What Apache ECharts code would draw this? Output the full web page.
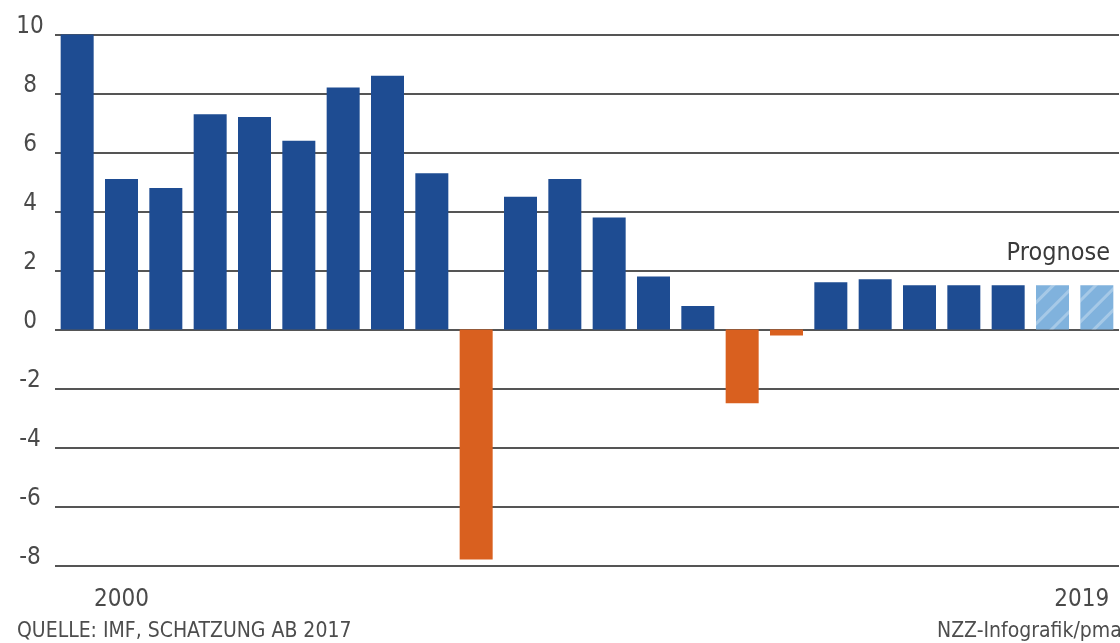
<!DOCTYPE html>
<html>
<head>
<meta charset="utf-8">
<script src="https://cdn.jsdelivr.net/npm/echarts@6/dist/echarts.min.js"></script>
<style>
  html, body { margin: 0; padding: 0; background: #ffffff; }
  #chart { width: 1120px; height: 643px; }
</style>
</head>
<body>
<div id="chart"></div>
<script>
// Tick labels shown under the bars (as printed in the reference)
const xTickLabels = ['', '2000', '', '', '', '', '', '', '', '', '', '', '', '', '', '', '', '', '', '', '', '', '', '2019'];
// Growth values (%)
const actualValues = [10.1, 5.1, 4.8, 7.3, 7.2, 6.4, 8.2, 8.6, 5.3, -7.8, 4.5, 5.1, 3.8, 1.8, 0.8, -2.5, -0.2, 1.6, 1.7, 1.5, 1.5, 1.5, null, null];
const forecastValues = [null, null, null, null, null, null, null, null, null, null, null, null, null, null, null, null, null, null, null, null, null, null, 1.5, 1.5];
const yTicks = [10, 8, 6, 4, 2, 0, -2, -4, -6, -8];

const BLUE = '#1e4c92';
const ORANGE = '#d9601f';
const LIGHT = '#80b2dd';
const FONT = 'DejaVu Sans Condensed';

const chart = echarts.init(document.getElementById('chart'), null, { renderer: 'canvas' });

const option = {
  backgroundColor: '#ffffff',
  animation: false,
  grid: { left: 55, right: 1, top: 34.5, bottom: 77.5, containLabel: false },
  title: [
    {
      text: 'QUELLE: IMF, SCHATZUNG AB 2017',
      left: 12, top: 616,
      textStyle: { fontFamily: FONT, fontSize: 21, fontWeight: 'normal', color: '#4d4d4d' }
    },
    {
      text: 'NZZ-Infografik/pma',
      left: 932, top: 616,
      textStyle: { fontFamily: FONT, fontSize: 21, fontWeight: 'normal', color: '#4d4d4d' }
    },
    {
      text: 'Prognose',
      right: 5, top: 236,
      textStyle: { fontFamily: FONT, fontSize: 25, fontWeight: 'normal', color: '#3a3a3a' }
    }
  ],
  xAxis: {
    type: 'category',
    data: xTickLabels,
    boundaryGap: true,
    axisLine: { show: false },
    axisTick: { show: false },
    axisLabel: {
      interval: 0,
      margin: 22,
      fontFamily: FONT,
      fontSize: 24,
      color: '#4a4a4a',
      formatter: function (v, i) {
        if (i === xTickLabels.length - 1 && v) return '{r|' + v + '}';
        return v;
      },
      rich: {
        r: { fontFamily: FONT, fontSize: 24, color: '#4a4a4a', padding: [0, 30, 0, 0] }
      }
    }
  },
  yAxis: {
    type: 'value',
    min: -8,
    max: 10,
    interval: 2,
    axisLine: { show: false },
    axisTick: { show: false },
    splitLine: { show: true, lineStyle: { color: '#555555', width: 2 } },
    axisLabel: {
      align: 'center',
      margin: 25,
      verticalAlign: 'bottom',
      lineHeight: 15,
      fontFamily: FONT,
      fontSize: 24,
      color: '#4a4a4a',
      formatter: function (v) { return yTicks.indexOf(v) >= 0 ? String(v) : ''; }
    }
  },
  series: [
    {
      type: 'bar',
      data: actualValues.map(function (v) {
        return v === null ? null : { value: v, itemStyle: { color: v < 0 ? ORANGE : BLUE } };
      }),
      barWidth: 33,
      barGap: '-100%',
      itemStyle: { color: BLUE }
    },
    {
      type: 'bar',
      data: forecastValues,
      barWidth: 33,
      barGap: '-100%',
      itemStyle: {
        color: LIGHT,
        decal: {
          symbol: 'rect',
          symbolSize: 1,
          color: 'rgba(255,255,255,0.3)',
          dashArrayX: [1, 0],
          dashArrayY: [3, 12],
          rotation: -Math.PI / 4
        }
      }
    }
  ]
};

chart.setOption(option);
</script>
</body>
</html>
